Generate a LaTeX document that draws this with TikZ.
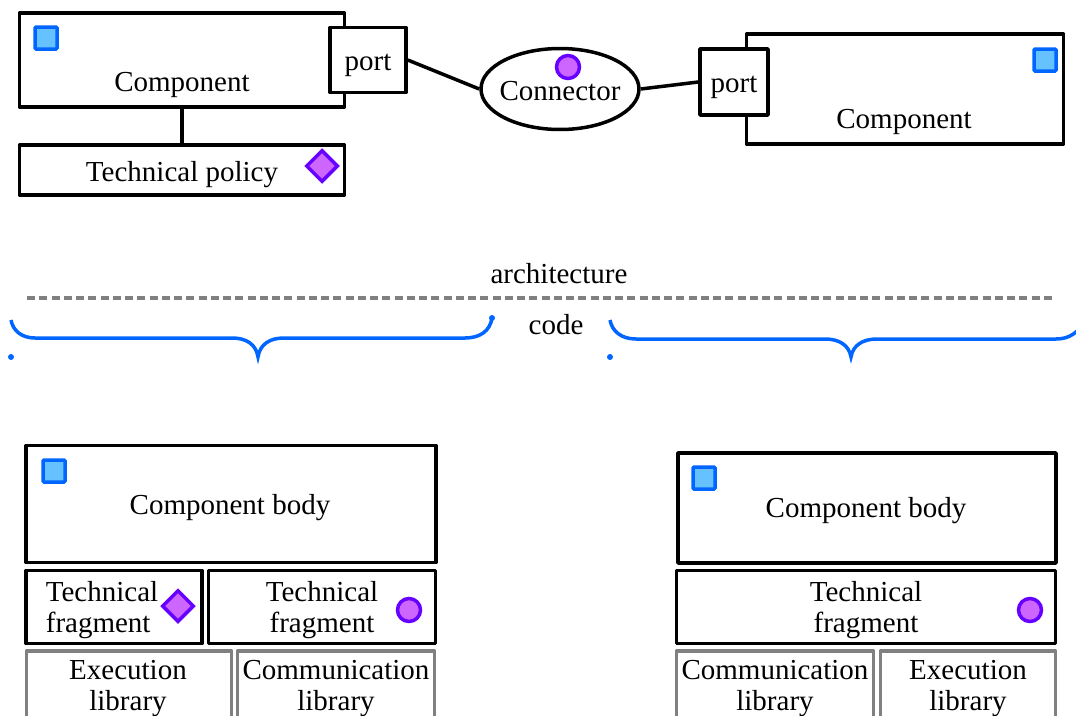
\documentclass[tikz,border=0pt]{standalone}
\usepackage{fontspec}
\setmainfont{Liberation Serif}
\usetikzlibrary{shapes.geometric}
\definecolor{blueline}{HTML}{0066FF}
\definecolor{bluefill}{HTML}{66C2FF}
\definecolor{violetline}{HTML}{6600FF}
\definecolor{violetfill}{HTML}{CC66FF}
\definecolor{greyline}{HTML}{808080}
\tikzset{
  box/.style={draw,rectangle,fill=white,line width=3.5pt,inner sep=0pt,line join=round},
  libbox/.style={box,draw=greyline},
  txt/.style={inner sep=0pt,align=center},
  marksquare/.style={draw=blueline,fill=bluefill,rectangle,line width=3.5pt,minimum size=22pt,inner sep=0pt,rounded corners=1pt},
  markdiamond/.style={draw=violetline,fill=violetfill,diamond,line width=3.5pt,minimum size=32pt,inner sep=0pt},
  markcircle/.style={draw=violetline,fill=violetfill,circle,line width=3.5pt,minimum size=23pt,inner sep=0pt},
  codebrace/.style={draw=blueline,line width=3.5pt},
  link/.style={line width=3.5pt},
}
\begin{document}
\begin{tikzpicture}[x=1pt,y=-1pt,font={\fontsize{29}{31}\selectfont}]
\useasboundingbox (0,0) rectangle (1076,715);

% top
\node[box,minimum width=325pt,minimum height=94pt] (comp1) at (182,60) {};
\node[txt] (comp1text) at (182,85) {Component};
\node[marksquare] (comp1mark) at (46,38) {};
\node[box,minimum width=76pt,minimum height=65pt] (port1) at (368,60) {};
\node[txt] (port1text) at (368,65) {port};
\node[box,minimum width=325pt,minimum height=50pt] (policy) at (182,170) {};
\node[txt] (policytext) at (182,175) {Technical policy};
\node[markdiamond] (policymark) at (322,166) {};
\draw[link] (comp1) to (policy);

\node[box,ellipse,minimum width=158pt,minimum height=81pt] (conn) at (560,89) {};
\node[txt] (conntext) at (560,91) {Connector};
\node[markcircle] (connmark) at (568,67) {};

\node[box,minimum width=317pt,minimum height=110pt] (comp2) at (905,89) {};
\node[txt] (comp2text) at (904,122) {Component};
\node[marksquare] (comp2mark) at (1045,60) {};
\node[box,minimum width=68pt,minimum height=66pt] (port2) at (734,82) {};
\node[txt] (port2text) at (734,87) {port};
\draw[link] (port1.east) to (conn.west);
\draw[link] (conn.east) to (port2.west);

% separation
\node[txt] (archi) at (559,274) {architecture};
\draw[draw=greyline,line width=3.5pt,dash pattern=on 8pt off 4.25pt] (27,298) -- (1052,298);
\node[txt] (code) at (556,325) {code};
\path[codebrace] (11,320) .. controls (13,331) and (22,338) .. (35,338) -- (232,338)
  .. controls (246,338) and (256,344) .. (258,357) .. controls (260,344) and (270,338) .. (284,338)
  -- (465,338) .. controls (480,338) and (490,331) .. (492,318);
\path[codebrace] (610,320) .. controls (612,331) and (621,339) .. (636,339) -- (825,339)
  .. controls (839,339) and (849,345) .. (851,357) .. controls (853,345) and (863,339) .. (877,339)
  -- (1056,339) .. controls (1070,339) and (1078,332) .. (1084,322);
\fill[blueline] (492,318) circle (3pt);
\fill[blueline] (11,357) circle (3pt);
\fill[blueline] (610,357) circle (3pt);

% bottom left
\node[box,minimum width=410pt,minimum height=117pt] (body1) at (231,504) {};
\node[txt] (body1text) at (230,508) {Component body};
\node[marksquare] (body1mark) at (54,471) {};
\node[box,minimum width=176pt,minimum height=73pt] (frag1) at (114,607) {};
\node[txt,align=left] (frag1text) at (102,610) {Technical\\fragment};
\node[markdiamond] (frag1mark) at (178,606) {};
\node[box,minimum width=227pt,minimum height=73pt] (frag2) at (322,607) {};
\node[txt] (frag2text) at (322,610) {Technical\\fragment};
\node[markcircle] (frag2mark) at (409,610) {};
\node[libbox,minimum width=205pt,minimum height=68pt] (lib1) at (129,685) {};
\node[txt] (lib1text) at (128,689) {Execution\\library};
\node[libbox,minimum width=197pt,minimum height=68pt] (lib2) at (336,685) {};
\node[txt] (lib2text) at (336,689) {Communication\\library};

% bottom right
\node[box,minimum width=378pt,minimum height=110pt] (body2) at (867,508) {};
\node[txt] (body2text) at (866,511) {Component body};
\node[marksquare] (body2mark) at (704,478) {};
\node[box,minimum width=379pt,minimum height=73pt] (frag3) at (866,607) {};
\node[txt] (frag3text) at (866,610) {Technical\\fragment};
\node[markcircle] (frag3mark) at (1030,610) {};
\node[libbox,minimum width=197pt,minimum height=68pt] (lib3) at (775,685) {};
\node[txt] (lib3text) at (775,689) {Communication\\library};
\node[libbox,minimum width=175pt,minimum height=68pt] (lib4) at (968,685) {};
\node[txt] (lib4text) at (968,689) {Execution\\library};
\end{tikzpicture}
\end{document}
